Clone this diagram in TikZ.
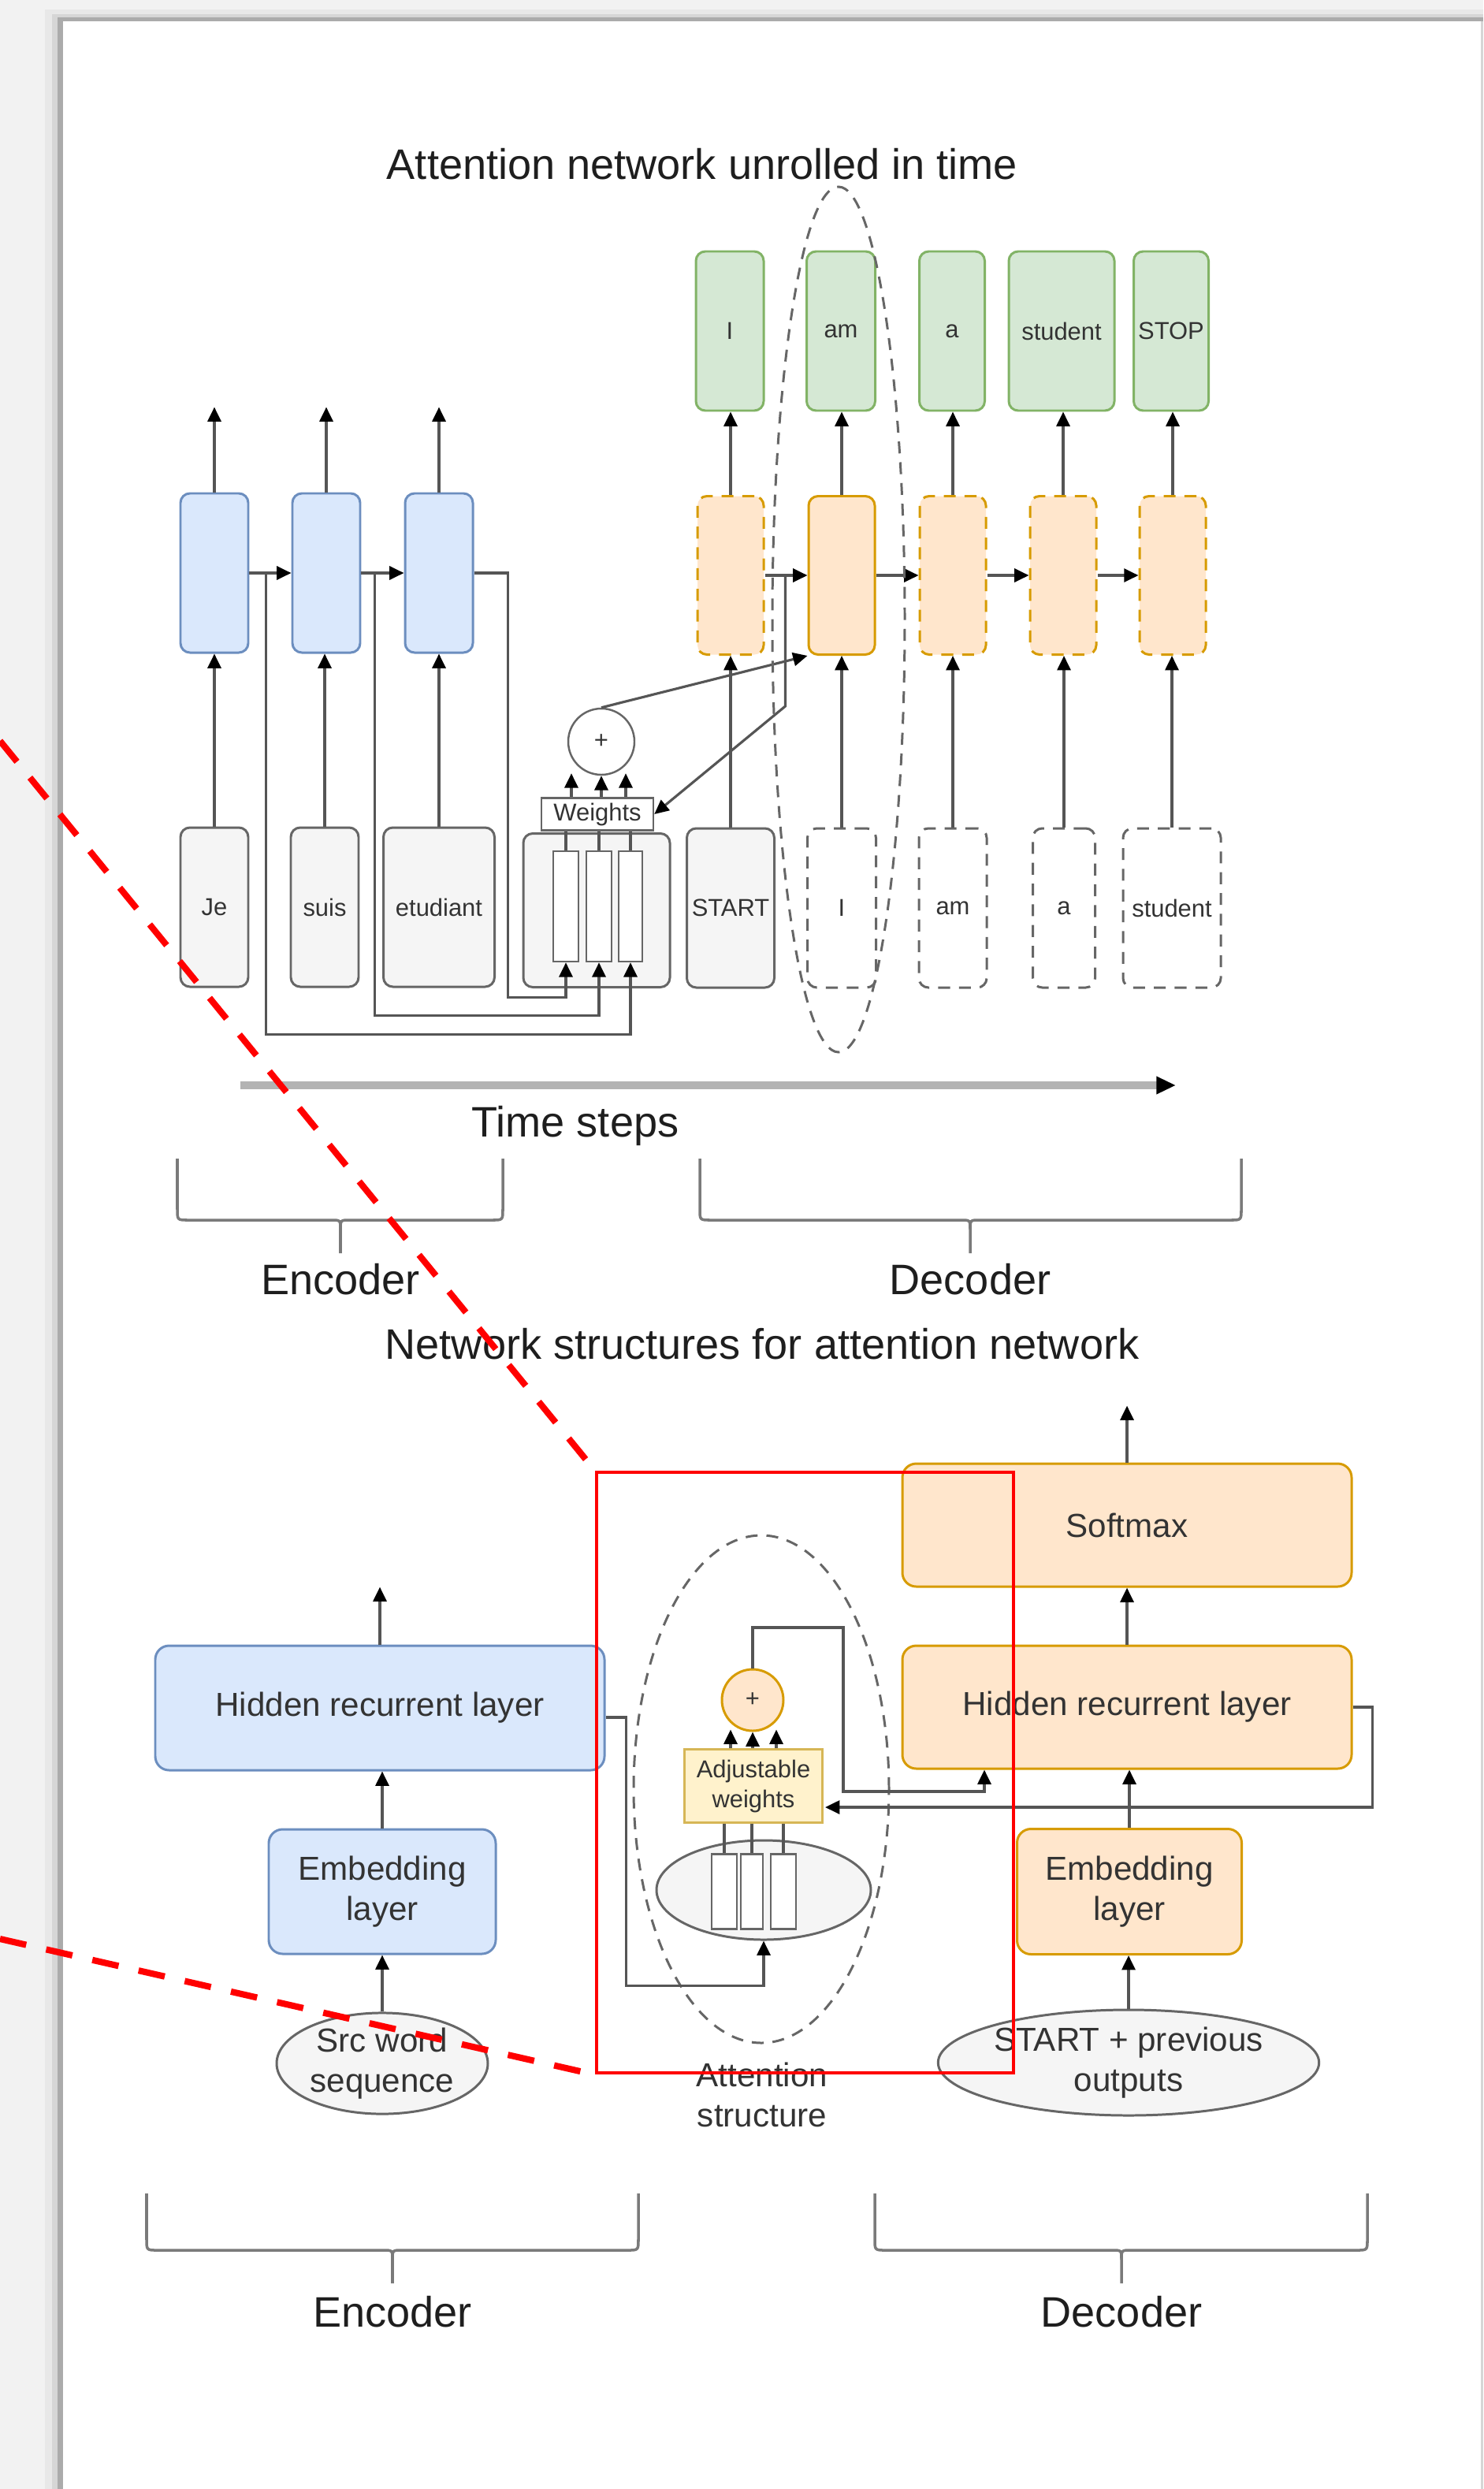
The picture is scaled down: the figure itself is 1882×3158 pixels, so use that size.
\documentclass[tikz,border=0pt]{standalone}
\usepackage{fontspec}
\setmainfont{Liberation Sans}
\usetikzlibrary{arrows.meta,shapes.geometric,calc}

\definecolor{pagegray}{HTML}{F2F2F2}
\definecolor{shadeA}{HTML}{E8E8E8}
\definecolor{shadeB}{HTML}{D6D6D6}
\definecolor{shadeC}{HTML}{ABABAB}
\definecolor{blueFill}{HTML}{DAE8FC}
\definecolor{blueLine}{HTML}{6C8EBF}
\definecolor{orFill}{HTML}{FFE6CC}
\definecolor{orLine}{HTML}{D79B00}
\definecolor{grFill}{HTML}{D5E8D4}
\definecolor{grLine}{HTML}{82B366}
\definecolor{inFill}{HTML}{F5F5F5}
\definecolor{inLine}{HTML}{666666}
\definecolor{ywFill}{HTML}{FFF2CC}
\definecolor{ywLine}{HTML}{D6B656}
\definecolor{wirec}{HTML}{555555}
\definecolor{txt}{HTML}{333333}
\definecolor{headtxt}{HTML}{1E1E1E}
\definecolor{axisgray}{HTML}{B3B3B3}
\definecolor{bracegray}{HTML}{7A7A7A}

\newcommand{\FontBig}{\fontsize{15.4}{18}\selectfont}
\newcommand{\FontMid}{\fontsize{12}{14.6}\selectfont}
\newcommand{\FontSmall}{\fontsize{8.8}{10.8}\selectfont}

% curly brace opening downwards: left x, right x, centre x, top y, bar y, tip y
\newcommand{\DrawBrace}[6]{%
  \draw[bracec] (#1,#4) -- ({#1},{#5-14}) .. controls (#1,#5) .. ({#1+14},#5)
    -- ({#3-12},#5) .. controls (#3,#5) .. (#3,{#5+12}) -- (#3,#6);
  \draw[bracec] (#2,#4) -- ({#2},{#5-14}) .. controls (#2,#5) .. ({#2-14},#5)
    -- ({#3+12},#5) .. controls (#3,#5) .. (#3,{#5+12});
}

\tikzset{
  sz/.style 2 args={minimum width=#1*0.1mm, minimum height=#2*0.1mm},
  box/.style={rectangle, rounded corners=3.4pt, line width=0.85pt, inner sep=0pt,
    font=\FontSmall, text=txt},
  encbox/.style={box, fill=blueFill, draw=blueLine},
  decbox/.style={box, fill=orFill, draw=orLine},
  ghost/.style={dash pattern=on 4.3pt off 3.2pt},
  outbox/.style={box, fill=grFill, draw=grLine},
  inbox/.style={box, fill=inFill, draw=inLine},
  emptybox/.style={box, fill=white, draw=inLine, ghost},
  bar/.style={rectangle, fill=white, draw=inLine, line width=0.7pt, inner sep=0pt},
  wbox/.style={rectangle, fill=white, draw=inLine, line width=0.7pt, inner sep=0pt,
    font=\FontSmall, text=txt},
  sumc/.style={circle, fill=white, draw=inLine, line width=0.7pt, inner sep=0pt,
    font=\FontSmall, text=txt},
  bbox/.style={rectangle, rounded corners=5pt, line width=0.85pt, inner sep=0pt,
    font=\FontMid, text=txt, align=center},
  benc/.style={bbox, fill=blueFill, draw=blueLine},
  bdec/.style={bbox, fill=orFill, draw=orLine},
  bsrc/.style={ellipse, fill=inFill, draw=inLine, line width=0.85pt, inner sep=0pt,
    font=\FontMid, text=txt, align=center},
  conn/.style={draw=wirec, line width=0.9pt},
  arr/.style={conn, -{Triangle[length=5.2pt,width=4.8pt,color=black]}},
  headline/.style={font=\FontBig, text=headtxt, inner sep=0pt},
  bracec/.style={draw=bracegray, line width=1pt},
  redmark/.style={draw=red, line width=2.3pt, dash pattern=on 9.7pt off 7.4pt},
}

\begin{document}
\begin{tikzpicture}[x=0.1mm,y=-0.1mm]
\useasboundingbox (0,0) rectangle (1882,3158);

% page sheet with its shadow
\fill[pagegray] (0,0) rectangle (1882,3158);
\fill[shadeA] (57,12) rectangle (1882,3158);
\fill[shadeB] (66,18) rectangle (1882,3158);
\fill[shadeC] (73,22) rectangle (1882,3158);
\fill[white] (80,27) rectangle (1882,3158);
\fill[shadeB] (1879,27) rectangle (1882,3158);

% ================= unrolled network =================
\node[headline] (title1) at (891,208) {Attention network unrolled in time};

% encoder states and inputs
\node[encbox, sz={86}{202}] (eh1) at (272,727) {};
\node[encbox, sz={86}{202}] (eh2) at (414,727) {};
\node[encbox, sz={86}{202}] (eh3) at (557,727) {};
\node[inbox, sz={86}{202}] (ein1) at (272,1151) {Je};
\node[inbox, sz={86}{202}] (ein2) at (412,1151) {suis};
\node[inbox, sz={141}{202}] (ein3) at (557,1151) {etudiant};

% attention block
\node[inbox, sz={186}{195}] (att) at (757,1155) {};
\node[bar, sz={32}{140}] (bar1) at (718,1150) {};
\node[bar, sz={32}{140}] (bar2) at (760,1150) {};
\node[bar, sz={30}{140}] (bar3) at (800,1150) {};
\node[wbox, sz={142}{41}] (wts) at (758,1033) {Weights};
\node[sumc, minimum size=84*0.1mm] (pl) at (763,941) {+};

% decoder states
\node[decbox, ghost, sz={84}{201}] (dh1) at (927,730) {};
\node[decbox, sz={84}{201}] (dh2) at (1068,730) {};
\node[decbox, ghost, sz={84}{201}] (dh3) at (1209,730) {};
\node[decbox, ghost, sz={84}{201}] (dh4) at (1349,730) {};
\node[decbox, ghost, sz={84}{201}] (dh5) at (1488,730) {};

% decoder outputs
\node[outbox, sz={86}{202}] (go1) at (926,420) {I};
\node[outbox, sz={87}{202}] (go2) at (1067,420) {am};
\node[outbox, sz={83}{202}] (go3) at (1208,420) {a};
\node[outbox, sz={134}{202}] (go4) at (1347,420) {student};
\node[outbox, sz={95}{202}] (go5) at (1486,420) {STOP};

% decoder inputs
\node[inbox, sz={111}{202}] (di0) at (927,1152) {START};
\node[emptybox, sz={87}{202}] (di1) at (1068,1152) {I};
\node[emptybox, sz={86}{202}] (di2) at (1209,1152) {am};
\node[emptybox, sz={79}{202}] (di3) at (1350,1152) {a};
\node[emptybox, sz={124}{202}] (di4) at (1487,1152) {student};

% encoder connectors
\foreach \n in {1,2,3} {
  \draw[arr] (eh\n.north) -- ++(0,-108);
  \draw[arr] (ein\n.north) -- (ein\n.north |- eh\n.south);
}
\draw[arr] (eh1.east) -- (eh2.west);
\draw[arr] (eh2.east) -- (eh3.west);
\coordinate (j1) at ($(eh1.east)+(21,0)$);
\coordinate (j2) at ($(eh2.east)+(17,0)$);
\draw[arr] (j1) |- ($(bar3.south)+(0,91)$) -- (bar3.south);
\draw[arr] (j2) |- ($(bar2.south)+(0,67)$) -- (bar2.south);
\draw[arr] (eh3.east) -- ++(43,0) |- ($(bar1.south)+(0,44)$) -- (bar1.south);

% attention internals
\foreach \n in {1,2,3} {
  \draw[conn] (bar\n.north) -- (bar\n.north |- wts.south);
}
\draw[arr] ($(wts.north)+(-33,0)$) -- ($(pl.south)+(-38,-3)$);
\draw[arr] (wts.north -| pl.south) -- (pl.south);
\draw[arr] ($(wts.north)+(36,0)$) -- ($(pl.south)+(31,-3)$);
\draw[arr] (pl.north) -- (dh2.south west);

% decoder connectors
\draw[arr] (dh1.east) -- (dh2.west);
\draw[arr] (dh2.east) -- (dh3.west);
\draw[arr] (dh3.east) -- (dh4.west);
\draw[arr] (dh4.east) -- (dh5.west);
\coordinate (j5) at ($(dh1.east)+(26,0)$);
\draw[arr] (j5) -- ++(0,166) -- (wts.east);
\draw[arr] (dh1.north) -- (dh1.north |- go1.south);
\draw[arr] (dh2.north) -- (dh2.north |- go2.south);
\draw[arr] (dh3.north) -- (dh3.north |- go3.south);
\draw[arr] (dh4.north) -- (dh4.north |- go4.south);
\draw[arr] (dh5.north) -- (dh5.north |- go5.south);
\draw[arr] (di0.north) -- (di0.north |- dh1.south);
\draw[arr] (di1.north) -- (di1.north |- dh2.south);
\draw[arr] (di2.north) -- (di2.north |- dh3.south);
\draw[arr] (di3.north) -- (di3.north |- dh4.south);
\draw[arr] (di4.north) -- (di4.north |- dh5.south);

% current time step
\node[ellipse, draw=inLine, ghost, line width=0.85pt, inner sep=0pt, sz={168}{1098}] (focus) at (1064,786) {};

% time axis
\coordinate (ts0) at (305,1377);
\coordinate (ts1) at (1492,1377);
\draw[draw=axisgray, line width=2.8pt, -{Triangle[length=7pt,width=6pt,color=black]}] (ts0) -- (ts1);
\node[headline] (tslab) at (730,1428) {Time steps};

\DrawBrace{225}{638}{432}{1470}{1548}{1590}
\DrawBrace{888}{1575}{1231}{1470}{1548}{1590}
\node[headline] (enclab1) at (432,1623) {Encoder};
\node[headline] (declab1) at (1231,1623) {Decoder};

% ================= layer structure =================
\node[headline] (title2) at (967,1705) {Network structures for attention network};

% encoder stack
\node[benc, sz={570}{158}] (ehl) at (482,2167) {Hidden recurrent layer};
\node[benc, sz={288}{158}] (eemb) at (485,2400) {Embedding\\layer};
\node[bsrc, sz={268}{127}] (esrc) at (485,2618) {Src word\\sequence};
\draw[arr] (ehl.north) -- ++(0,-73);
\draw[arr] (eemb.north) -- (eemb.north |- ehl.south);
\draw[arr] (esrc.north) -- (eemb.south);

% decoder stack
\node[bdec, sz={570}{156}] (dsm) at (1430,1935) {Softmax};
\node[bdec, sz={570}{156}] (dhl) at (1430,2166) {Hidden recurrent layer};
\node[bdec, sz={285}{159}] (demb) at (1433,2400) {Embedding\\layer};
\node[bsrc, sz={472}{134}] (dsrc) at (1432,2617) {START + previous\\outputs};
\draw[arr] (dsm.north) -- ++(0,-72);
\draw[arr] (dhl.north) -- (dhl.north |- dsm.south);
\draw[arr] (demb.north) -- (demb.north |- dhl.south);
\draw[arr] (dsrc.north) -- (dsrc.north |- demb.south);

% attention structure
\node[ellipse, draw=inLine, ghost, line width=0.85pt, inner sep=0pt, sz={324}{644}] (attn) at (966,2270) {};
\node[ellipse, fill=inFill, draw=inLine, line width=0.85pt, inner sep=0pt, sz={272}{126}] (iell) at (969,2398) {};
\node[bar, sz={32}{95}] (b1) at (919,2400) {};
\node[bar, sz={28}{95}] (b2) at (954,2400) {};
\node[bar, sz={32}{95}] (b3) at (994,2400) {};
\node[rectangle, fill=ywFill, draw=ywLine, line width=0.85pt, inner sep=0pt, sz={175}{93},
  font=\FontSmall, text=txt, align=center] (adjw) at (956,2266) {Adjustable\\weights};
\node[circle, fill=orFill, draw=orLine, line width=0.85pt, inner sep=0pt, minimum size=78*0.1mm,
  font=\FontSmall, text=txt] (pc) at (955,2157) {+};
\node[font=\FontMid, text=txt, align=center, inner sep=0pt] (attlab) at (967,2658) {Attention\\structure};

\draw[conn] (b1.north) -- (b1.north |- adjw.south);
\draw[conn] (b2.north) -- (b2.north |- adjw.south);
\draw[conn] (b3.north) -- (b3.north |- adjw.south);
\draw[arr] ($(adjw.north)+(-29,0)$) -- ($(pc.south)+(-28,-3)$);
\draw[arr] (adjw.north -| pc.south) -- (pc.south);
\draw[arr] ($(adjw.north)+(29,0)$) -- ($(pc.south)+(30,-3)$);

\coordinate (k1) at (1070,2065);
\coordinate (k2) at (1249,2273);
\draw[arr] (pc.north) |- (k1) |- (k2) -- (k2 |- dhl.south);
\draw[arr] (dhl.east) -- ++(25,0) |- ($(adjw.east)+(2,27)$);
\draw[arr] ($(ehl.east)+(0,12)$) -- ++(26,0) |- ($(iell.south)+(0,57)$) -- (iell.south);

\DrawBrace{186}{810}{498}{2783}{2855}{2897}
\DrawBrace{1110}{1735}{1423}{2783}{2855}{2897}
\node[headline] (enclab2) at (498,2933) {Encoder};
\node[headline] (declab2) at (1423,2933) {Decoder};

% highlight frame and its callout lines
\node[draw=red, line width=1.3pt, inner sep=0pt, sz={529}{762}] (frame) at (1021.5,2249) {};
\coordinate (r1) at (0,940);
\coordinate (r2) at (0,2460);
\draw[redmark] (r1) -- (frame.north west);
\draw[redmark] (r2) -- (frame.south west);
\end{tikzpicture}
\end{document}
